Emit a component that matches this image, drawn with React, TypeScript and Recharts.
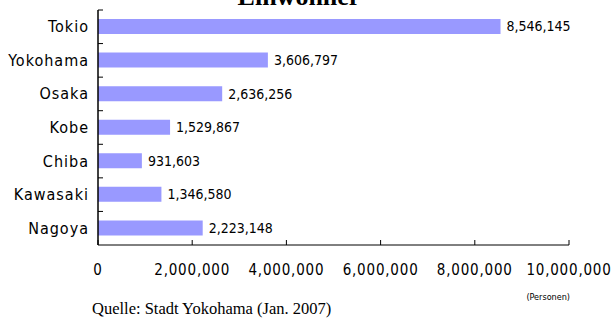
import { Bar, BarChart, LabelList, XAxis, YAxis } from "recharts";

const cities = ["Tokio", "Yokohama", "Osaka", "Kobe", "Chiba", "Kawasaki", "Nagoya"];
const population = [8546145, 3606797, 2636256, 1529867, 931603, 1346580, 2223148];
const xTicks = [0, 2000000, 4000000, 6000000, 8000000, 10000000];

const data = cities.map((city, i) => ({ city, value: population[i] }));

const W = 611;
const H = 318;
const TOP = 10;
const AXIS_H = 73;
const BAND = (H - TOP - AXIS_H) / cities.length;

const narrow = '"Liberation Sans Narrow", "DejaVu Sans Condensed", "Liberation Sans", sans-serif';
const fmt = (v: number) => v.toLocaleString("en-US");

function CityTick(props: any) {
  const { x, y, payload } = props;
  const top = y - BAND / 2;
  return (
    <g>
      <line x1={x} x2={x + 5} y1={top} y2={top} stroke="#000" />
      <text
        x={x - 9}
        y={y}
        textAnchor="end"
        dominantBaseline="central"
        fontFamily={narrow}
        fontSize={16}
        letterSpacing={1}
        fill="#000"
      >
        {payload.value}
      </text>
    </g>
  );
}

function ValueTick(props: any) {
  const { x, y, payload } = props;
  return (
    <g>
      <line x1={x} x2={x} y1={y} y2={y - 5} stroke="#000" />
      <text
        x={x}
        y={y + 25}
        textAnchor="middle"
        dominantBaseline="central"
        fontFamily={narrow}
        fontSize={15}
        letterSpacing={0.8}
        fill="#000"
      >
        {fmt(payload.value)}
      </text>
    </g>
  );
}

export default function App() {
  return (
    <div style={{ position: "absolute", left: 0, top: 0, width: W, height: H, background: "#fff" }}>
      <BarChart
        width={W}
        height={H}
        data={data}
        layout="vertical"
        margin={{ top: TOP, right: 42, left: 0, bottom: 0 }}
      >
        <XAxis
          type="number"
          domain={[0, 10000000]}
          ticks={xTicks}
          height={AXIS_H}
          tickSize={0}
          tickMargin={0}
          tickLine={false}
          axisLine={{ stroke: "#000" }}
          tick={<ValueTick />}
          interval={0}
        />
        <YAxis
          type="category"
          dataKey="city"
          width={98}
          tickSize={0}
          tickMargin={0}
          tickLine={false}
          axisLine={{ stroke: "#000", strokeWidth: 1.5 }}
          tick={<CityTick />}
          interval={0}
        />
        <Bar dataKey="value" fill="#9999ff" barSize={15} isAnimationActive={false}>
          <LabelList
            dataKey="value"
            position="right"
            offset={6}
            formatter={(v: any) => fmt(v as number)}
            fill="#000"
            fontFamily={narrow}
            fontSize={14}
          />
        </Bar>
      </BarChart>
      <svg width={W} height={H} style={{ position: "absolute", left: 0, top: 0, pointerEvents: "none" }}>
        <text x={299} y={5} textAnchor="middle" fontFamily='"Liberation Serif", serif' fontWeight="bold" fontSize={26}>
          Einwohner
        </text>
        <text x={570} y={297} textAnchor="end" dominantBaseline="central" fontFamily={narrow} fontSize={9}>
          (Personen)
        </text>
        <text x={92} y={314} fontFamily='"Liberation Serif", serif' fontSize={16.5}>
          Quelle: Stadt Yokohama (Jan. 2007)
        </text>
      </svg>
    </div>
  );
}
